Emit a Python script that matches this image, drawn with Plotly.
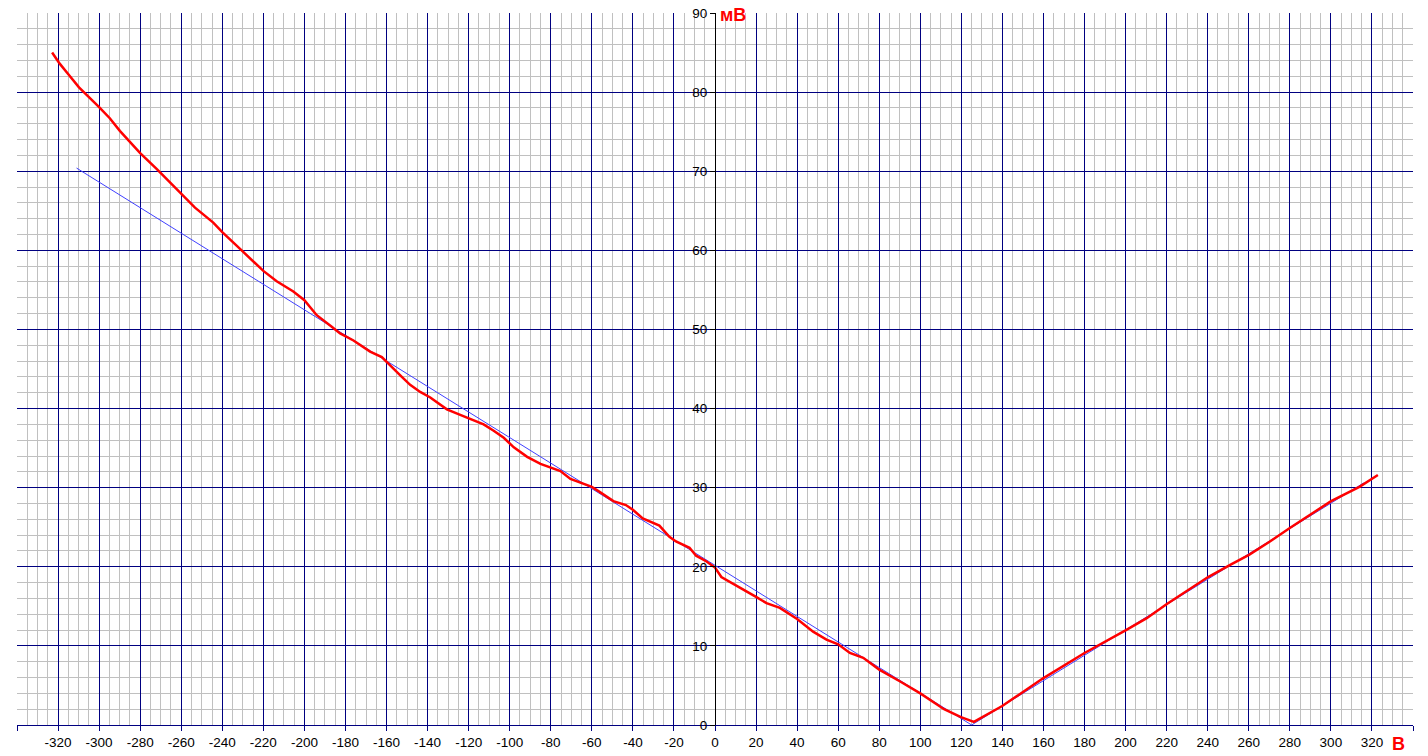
import plotly.graph_objects as go

# Measured curve (red), x in В, y in мВ
red_x = [-322.9, -319.2, -315.1, -311.9, -309.8, -300.0, -294.8, -289.9, -280.0,
         -272.0, -260.0, -253.3, -244.4, -240.0, -229.8, -220.0, -213.5, -205.4, -200.0,
         -194.0, -187.0, -182.6, -176.1, -168.0, -162.3, -158.2, -153.3, -148.5, -143.6,
         -138.7, -130.6, -124.1, -117.6, -112.7, -107.8, -102.9, -98.0, -91.5, -85.0,
         -78.5, -75.3, -70.4, -65.0, -60.0, -56.4, -49.5, -43.4, -40.0, -35.2,
         -27.1, -22.2, -19.0, -12.4, -9.2, -4.3, 0.0, 3.1, 8.8, 15.3,
         20.0, 25.1, 31.6, 40.0, 47.8, 54.3, 60.0, 65.7, 72.2, 80.0,
         90.2, 100.0, 111.6, 119.8, 126.1, 139.9, 159.8, 180.0, 200.2, 210.3,
         220.1, 240.2, 251.4, 260.1, 270.3, 280.0, 300.1, 313.9, 322.9]
red_y = [85.0, 83.6, 82.3, 81.3, 80.6, 78.1, 76.7, 75.1, 72.3,
         70.3, 67.2, 65.4, 63.5, 62.3, 59.8, 57.4, 56.1, 54.8, 53.7,
         51.8, 50.4, 49.5, 48.6, 47.2, 46.5, 45.4, 44.2, 43.0, 42.1,
         41.4, 39.9, 39.2, 38.5, 38.0, 37.2, 36.3, 35.1, 33.9, 33.0,
         32.4, 32.1, 31.1, 30.6, 30.1, 29.5, 28.3, 27.8, 27.2, 26.1,
         25.2, 23.8, 23.2, 22.4, 21.4, 20.7, 19.9, 18.7, 17.9, 16.9,
         16.2, 15.4, 14.8, 13.4, 11.8, 10.8, 10.2, 9.1, 8.5, 7.0,
         5.5, 4.0, 2.0, 1.0, 0.4, 2.4, 5.9, 9.1, 12.0, 13.5,
         15.3, 18.7, 20.3, 21.5, 23.2, 24.9, 28.3, 30.1, 31.6]

# Fitted V line (blue)
blue_x = [-311.0, 125.0, 316.0]
blue_y = [70.4, 0.0, 30.6]

# Axis ticks
x_tick_vals = list(range(-340, 341, 20))
x_tick_text = ["" if abs(v) == 340 else str(v) for v in x_tick_vals]
x_grid_vals = list(range(-320, 321, 20))
y_tick_vals = list(range(0, 91, 10))
y_grid_vals = list(range(10, 81, 10))

NAVY = "#000080"
GRAY = "#C0C0C0"
FONT = "Liberation Sans, Arial, sans-serif"
TICK_SIZE = 13.5

fig = go.Figure()
fig.add_trace(go.Scatter(x=blue_x, y=blue_y, mode="lines",
                         line=dict(color="rgb(64,64,255)", width=1),
                         showlegend=False, hoverinfo="skip"))
fig.add_trace(go.Scatter(x=red_x, y=red_y, mode="lines",
                         line=dict(color="#FF0000", width=2.5),
                         showlegend=False, hoverinfo="skip"))
# empty trace so the overlay grid axes are drawn
fig.add_trace(go.Scatter(x=[], y=[], xaxis="x2", yaxis="y2", showlegend=False))

fig.update_layout(
    width=1428, height=756,
    margin=dict(l=17, r=15, t=13, b=31),
    paper_bgcolor="white", plot_bgcolor="white",
    font=dict(family=FONT, size=TICK_SIZE, color="black"),
    hovermode=False,
    xaxis=dict(
        range=[-340, 340], autorange=False,
        tickmode="array", tickvals=x_tick_vals, ticktext=x_tick_text,
        ticks="outside", ticklen=5, tickcolor=NAVY, tickwidth=1,
        showline=True, linecolor=NAVY, linewidth=1,
        showgrid=False, zeroline=False,
        minor=dict(dtick=5, tick0=0, showgrid=True, gridcolor=GRAY, gridwidth=1, ticks=""),
        tickfont=dict(family=FONT, size=TICK_SIZE, color="black"),
        automargin=False,
    ),
    yaxis=dict(
        range=[0, 90], autorange=False,
        anchor="free", position=0.5,
        tickmode="array", tickvals=y_tick_vals,
        ticks="outside", ticklen=5, tickcolor="black", tickwidth=1,
        showline=True, linecolor="black", linewidth=1,
        showgrid=False, zeroline=False,
        minor=dict(dtick=2, tick0=0, showgrid=True, gridcolor=GRAY, gridwidth=1, ticks=""),
        tickfont=dict(family=FONT, size=TICK_SIZE, color="black"),
        automargin=False,
    ),
    xaxis2=dict(
        overlaying="x", range=[-340, 340], autorange=False,
        tickmode="array", tickvals=x_grid_vals,
        showgrid=True, gridcolor=NAVY, gridwidth=1,
        showticklabels=False, ticks="", showline=False, zeroline=False,
    ),
    yaxis2=dict(
        overlaying="y", range=[0, 90], autorange=False,
        tickmode="array", tickvals=y_grid_vals,
        showgrid=True, gridcolor=NAVY, gridwidth=1,
        showticklabels=False, ticks="", showline=False, zeroline=False,
    ),
    annotations=[
        dict(x=0, y=90, xref="x", yref="y", text="<b>мВ</b>", showarrow=False,
             xanchor="left", yanchor="middle", xshift=3, yshift=-2,
             font=dict(family=FONT, size=18, color="#FF0000")),
        dict(x=333, y=0, xref="x", yref="y", text="<b>В</b>", showarrow=False,
             xanchor="center", yanchor="middle", yshift=-19,
             font=dict(family=FONT, size=18, color="#FF0000")),
    ],
)

fig.write_html(
    "out.html",
    config={"displayModeBar": False},
    post_script="document.body.style.margin='0px';document.body.style.overflow='hidden';",
)
